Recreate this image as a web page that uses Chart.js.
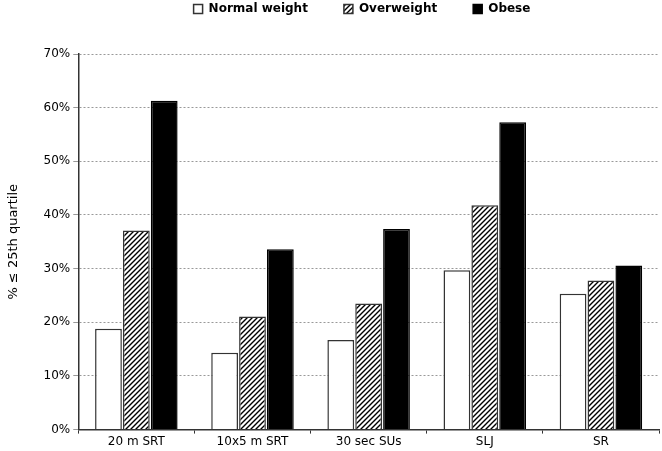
<!DOCTYPE html>
<html><head><meta charset="utf-8">
<script src="https://cdn.jsdelivr.net/npm/chart.js@4/dist/chart.umd.min.js"></script>
<style>html,body{margin:0;padding:0;background:#fff}#wrap{width:662px;height:451px}</style>
</head><body><div id="wrap"><canvas id="c" width="662" height="451"></canvas></div>
<script>
const categories = ["20 m SRT", "10x5 m SRT", "30 sec SUs", "SLJ", "SR"];
const normalWeight = [18.8, 14.3, 16.7, 29.7, 25.3];
const overweight = [37.1, 21.1, 23.5, 41.8, 27.8];
const obese = [61.3, 33.6, 37.4, 57.3, 30.6];
const seriesNames = ["Normal weight", "Overweight", "Obese"];
const yTicks = [0, 10, 20, 30, 40, 50, 60, 70];

function hatch() {
  const s = 5;
  const p = document.createElement('canvas');
  p.width = s; p.height = s;
  const g = p.getContext('2d');
  g.fillStyle = '#fff'; g.fillRect(0, 0, s, s);
  g.strokeStyle = '#000'; g.lineWidth = 1.4;
  g.beginPath();
  g.moveTo(0, s); g.lineTo(s, 0);
  g.moveTo(-s/2, s/2); g.lineTo(s/2, -s/2);
  g.moveTo(s/2, s*1.5); g.lineTo(s*1.5, s/2);
  g.stroke();
  return document.getElementById('c').getContext('2d').createPattern(p, 'repeat');
}
const pat = hatch();
const font = "'DejaVu Sans', Verdana, sans-serif";

const legendSpace = {
  id: 'legendSpace',
  beforeInit(chart) {
    const fit = chart.legend.fit;
    chart.legend.fit = function () { fit.call(this); this.height = 54; };
  },
  afterLayout(chart) {
    const lg = chart.legend;
    lg.left = 62; lg.right = 662; lg.width = 600;
    lg.top = -33;
  }
};

new Chart(document.getElementById('c'), {
  type: 'bar',
  data: {
    labels: categories,
    datasets: [
      {label: seriesNames[0], data: normalWeight, backgroundColor: '#fff', borderColor: '#333', borderWidth: 1.5},
      {label: seriesNames[1], data: overweight, backgroundColor: pat, borderColor: '#333', borderWidth: 1.5},
      {label: seriesNames[2], data: obese, backgroundColor: '#000', borderColor: '#000', borderWidth: 1.5}
    ]
  },
  options: {
    responsive: false,
    animation: false,
    devicePixelRatio: 1,
    layout: {padding: {left: 4, right: 3, top: 0, bottom: 1}},
    datasets: {bar: {categoryPercentage: 0.72, barPercentage: 0.96}},
    plugins: {
      legend: {
        position: 'top',
        labels: {
          font: {family: font, size: 12, weight: 'bold'},
          color: '#000', boxWidth: 9, boxHeight: 9, padding: 36
        }
      },
      tooltip: {enabled: false}
    },
    scales: {
      x: {
        offset: true,
        grid: {display: true, drawOnChartArea: false, offset: true, color: '#333', tickLength: 4, lineWidth: 1},
        border: {color: '#333', width: 1.5},
        ticks: {font: {family: font, size: 12}, color: '#000', padding: 1}
      },
      y: {
        min: 0, max: 70,
        afterBuildTicks: (a) => { a.ticks = yTicks.map(v => ({value: v})); },
        grid: {color: '#999', lineWidth: 1, tickLength: 5},
        border: {color: '#333', width: 1.5, dash: [2, 2]},
        ticks: {font: {family: font, size: 12}, color: '#000', padding: 3, callback: v => v + '%'},
        title: {display: true, text: '% ≤ 25th quartile', font: {family: font, size: 13}, color: '#000', padding: {top: 2, bottom: 19}}
      }
    }
  },
  plugins: [legendSpace]
});
</script></body></html>
